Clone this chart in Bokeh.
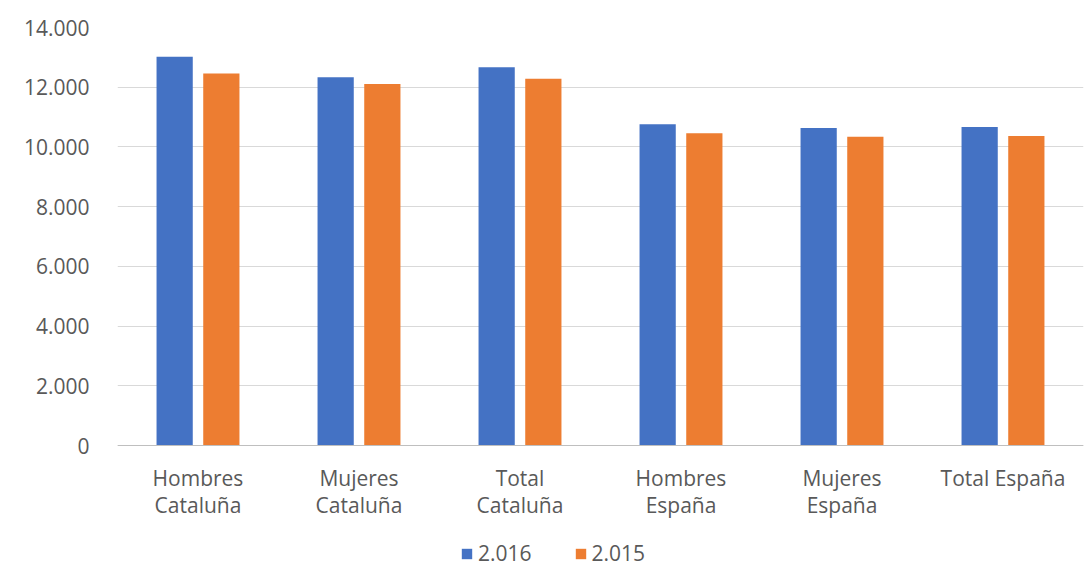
from bokeh.plotting import figure
from bokeh.models import FixedTicker, Legend, LegendItem
from bokeh.embed import file_html
from bokeh.resources import INLINE

categories = ["Hombres Cataluña", "Mujeres Cataluña", "Total Cataluña",
              "Hombres España", "Mujeres España", "Total España"]
label_lines = ["Hombres\nCataluña", "Mujeres\nCataluña", "Total\nCataluña",
               "Hombres\nEspaña", "Mujeres\nEspaña", "Total España"]
series_names = ["2.016", "2.015"]
values_2016 = [13020, 12330, 12670, 10760, 10630, 10670]
values_2015 = [12460, 12110, 12280, 10460, 10340, 10370]
y_ticks = [0, 2000, 4000, 6000, 8000, 10000, 12000, 14000]
y_tick_labels = ["0", "2.000", "4.000", "6.000", "8.000", "10.000", "12.000", "14.000"]

BLUE = "#4472C4"
ORANGE = "#ED7D31"
TEXT = "#595959"
FONT = "Open Sans"

W, H = 1085, 567
TOP, LEFT, RIGHT = 27, 117, 2
PLOT_PX = 418            # pixels from 0 to 14000
BELOW_PX = H - TOP - PLOT_PX
Y_MAX = y_ticks[-1]
Y_MIN = -Y_MAX * BELOW_PX / PLOT_PX

idx = list(range(len(categories)))
x16 = [i - 0.145 for i in idx]
x15 = [i + 0.145 for i in idx]

p = figure(x_range=(-0.5, len(categories) - 0.5), y_range=(Y_MIN, Y_MAX),
           width=W, height=H, output_backend="svg", toolbar_location=None,
           min_border_left=LEFT, min_border_right=RIGHT, min_border_top=TOP,
           min_border_bottom=0)
p.outline_line_color = None

r1 = p.vbar(x=x16, top=values_2016, width=0.225, fill_color=BLUE, line_color=None)
r2 = p.vbar(x=x15, top=values_2015, width=0.225, fill_color=ORANGE, line_color=None)

p.xgrid.grid_line_color = None
p.ygrid.ticker = FixedTicker(ticks=y_ticks)
p.ygrid.grid_line_color = "#D9D9D9"
p.ygrid.grid_line_width = 1

p.yaxis.ticker = FixedTicker(ticks=y_ticks)
p.yaxis.major_label_overrides = dict(zip(y_ticks, y_tick_labels))
p.yaxis.axis_line_color = None
p.yaxis.major_tick_line_color = None
p.yaxis.minor_tick_line_color = None
p.yaxis.major_tick_out = 0
p.yaxis.major_label_text_font = FONT
p.yaxis.major_label_text_font_size = "21px"
p.yaxis.major_label_text_color = TEXT
p.yaxis.major_label_standoff = 28

p.xaxis.fixed_location = 0
p.xaxis.ticker = FixedTicker(ticks=idx)
p.xaxis.major_label_overrides = dict(zip(idx, label_lines))
p.xaxis.axis_line_color = "#BFBFBF"
p.xaxis.major_tick_line_color = None
p.xaxis.minor_tick_line_color = None
p.xaxis.major_tick_out = 0
p.xaxis.major_label_text_font = FONT
p.xaxis.major_label_text_font_size = "21px"
p.xaxis.major_label_text_color = TEXT
p.xaxis.major_label_standoff = 18
p.xaxis.major_label_text_line_height = 0.97

legend = Legend(items=[LegendItem(label=series_names[0], renderers=[r1]),
                       LegendItem(label=series_names[1], renderers=[r2])],
                orientation="horizontal", location=(343, 0),
                padding=0, margin=0, spacing=42, label_standoff=5,
                glyph_width=13, glyph_height=13, label_height=20,
                label_text_font=FONT, label_text_font_size="21px",
                label_text_color=TEXT, border_line_color=None,
                background_fill_alpha=0)
p.add_layout(legend)

open("out.html", "w").write(file_html(p, INLINE))
